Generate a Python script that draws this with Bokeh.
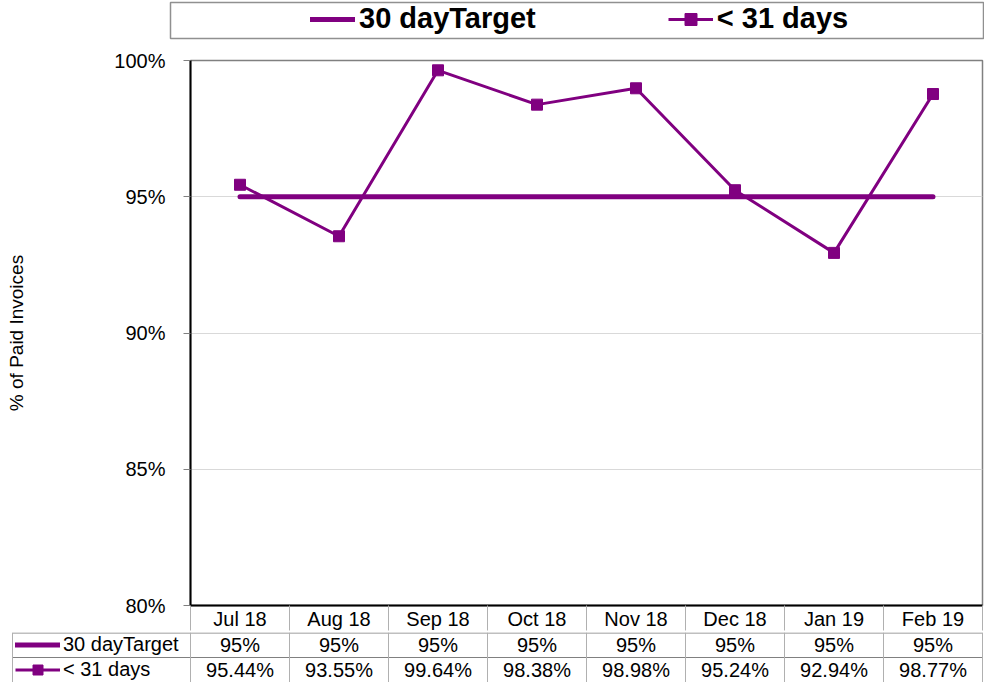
from bokeh.plotting import figure
from bokeh.layouts import column
from bokeh.models import Legend, LegendItem, Range1d, FixedTicker
from bokeh.embed import file_html
from bokeh.resources import INLINE
from bokeh.core.properties import value

# ---------------- data ----------------
months = ["Jul 18", "Aug 18", "Sep 18", "Oct 18", "Nov 18", "Dec 18", "Jan 19", "Feb 19"]
target = [95, 95, 95, 95, 95, 95, 95, 95]
under31 = [95.44, 93.55, 99.64, 98.38, 98.98, 95.24, 92.94, 98.77]
series_names = ["30 dayTarget", "< 31 days"]
y_ticks = [80, 85, 90, 95, 100]

PURPLE = "#800080"
FONT = "Liberation Sans"
W = 984
FRAME_L, FRAME_R = 190, 982
N = len(months)
COLW = (FRAME_R - FRAME_L) / N
centers = [i + 0.5 for i in range(N)]     # category slot centres
bounds = list(range(N + 1))               # category slot edges


def series_renderers(fig):
    """Draw both series on fig; returns (target_line, series_line, series_markers)."""
    a = fig.line(x=centers, y=target, line_color=PURPLE, line_width=5, line_cap="round")
    b = fig.line(x=centers, y=under31, line_color=PURPLE, line_width=3)
    c = fig.scatter(x=centers, y=under31, marker="square", size=11,
                    fill_color=PURPLE, line_color=PURPLE)
    return a, b, c


# ---------------- top legend strip ----------------
L_H = 42
pl = figure(width=W, height=L_H, x_range=Range1d(0, N), y_range=Range1d(0, 1),
            output_backend="svg", toolbar_location=None, frame_align=False,
            x_axis_location=None, y_axis_location=None,
            min_border_left=170, min_border_right=0, min_border_top=2, min_border_bottom=4)
pl.grid.visible = False
pl.outline_line_color = "#909090"
pl.outline_line_width = 1.5
k1, k2, k3 = series_renderers(pl)   # outside this strip's y range: legend keys only
pl.add_layout(Legend(items=[LegendItem(label=series_names[0], renderers=[k1]),
                            LegendItem(label=series_names[1], renderers=[k2, k3])],
                     orientation="horizontal", location=(140, 3),
                     border_line_color=None, background_fill_alpha=0,
                     label_text_font=FONT, label_text_font_style="bold",
                     label_text_font_size="29px", label_text_color="black",
                     glyph_width=45, glyph_height=30, label_height=30,
                     label_standoff=4, spacing=132, padding=0, margin=0))

# ---------------- main chart ----------------
A_H = 632 - L_H
p = figure(width=W, height=A_H,
           x_range=Range1d(0, N), y_range=Range1d(80, 100),
           output_backend="svg", toolbar_location=None, frame_align=False,
           min_border_left=FRAME_L, min_border_right=W - FRAME_R,
           min_border_top=60 - L_H, min_border_bottom=632 - 607)
p.outline_line_color = "#808080"
p.outline_line_width = 1.5

p.yaxis.ticker = FixedTicker(ticks=y_ticks)
p.yaxis.major_label_overrides = {t: f"{t}%" for t in y_ticks}
p.yaxis.major_label_text_font = FONT
p.yaxis.major_label_text_font_size = "20px"
p.yaxis.major_label_text_color = "black"
p.yaxis.major_label_standoff = 18
p.yaxis.major_tick_out = 7
p.yaxis.major_tick_in = 0
p.yaxis.major_tick_line_color = "#808080"
p.yaxis.minor_tick_line_color = None
p.yaxis.axis_line_color = "black"
p.yaxis.axis_line_width = 2
p.yaxis.axis_label = "% of Paid Invoices"
p.yaxis.axis_label_text_font = FONT
p.yaxis.axis_label_text_font_style = "normal"
p.yaxis.axis_label_text_font_size = "19px"
p.yaxis.axis_label_text_color = "black"
p.yaxis.axis_label_standoff = 84
p.ygrid.grid_line_color = "#d9d9d9"
p.xgrid.grid_line_color = None

# x axis = header row of the data table (month names, cell separators)
p.xaxis.ticker = FixedTicker(ticks=centers, minor_ticks=bounds)
p.xaxis.major_label_overrides = {c: m for c, m in zip(centers, months)}
p.xaxis.major_tick_line_color = None
p.xaxis.major_tick_out = 0
p.xaxis.major_tick_in = 0
p.xaxis.minor_tick_out = 25
p.xaxis.minor_tick_in = 0
p.xaxis.minor_tick_line_color = "#b0b0b0"
p.xaxis.axis_line_color = "black"
p.xaxis.axis_line_width = 2
p.xaxis.major_label_text_font = FONT
p.xaxis.major_label_text_font_size = "20px"
p.xaxis.major_label_text_color = "black"
p.xaxis.major_label_standoff = -23

series_renderers(p)

# ---------------- data table rows ----------------
B_H = 682 - 632
ROW_H = 25
pb = figure(width=W, height=B_H,
            x_range=Range1d(-FRAME_L / COLW, (W - FRAME_L) / COLW),
            y_range=Range1d(-B_H, 0),
            output_backend="svg", toolbar_location=None, frame_align=False,
            x_axis_location=None, y_axis_location=None,
            min_border_left=0, min_border_right=0, min_border_top=0, min_border_bottom=0)
pb.grid.visible = False
pb.outline_line_color = None

left_edge = -(FRAME_L - 12) / COLW
pb.segment(x0=[left_edge, left_edge], x1=[N, N], y0=[-0.5, -ROW_H], y1=[-0.5, -ROW_H],
           line_color="#808080", line_width=1)
vx = bounds + [left_edge]
pb.segment(x0=vx, x1=vx, y0=[0] * len(vx), y1=[-B_H] * len(vx),
           line_color="#b0b0b0", line_width=1)

pb.text(x=centers, y=[-ROW_H / 2] * N, text=[f"{v:g}%" for v in target],
        text_align="center", text_baseline="middle", text_font=value(FONT),
        text_font_size="20px", text_color="black")
pb.text(x=centers, y=[-ROW_H * 1.5] * N, text=[f"{v:.2f}%" for v in under31],
        text_align="center", text_baseline="middle", text_font=value(FONT),
        text_font_size="20px", text_color="black")

t1, t2, t3 = series_renderers(pb)   # outside the table's y range: legend keys only
pb.add_layout(Legend(items=[LegendItem(label=series_names[0], renderers=[t1]),
                            LegendItem(label=series_names[1], renderers=[t2, t3])],
                     orientation="vertical", location=(15, 0),
                     border_line_color=None, background_fill_alpha=0,
                     label_text_font=FONT, label_text_font_size="20px",
                     label_text_color="black",
                     glyph_width=45, glyph_height=ROW_H, label_height=ROW_H,
                     label_standoff=3, spacing=0, padding=0, margin=0))

layout = column(pl, p, pb, spacing=0)
open("out.html", "w").write(file_html(layout, INLINE))
